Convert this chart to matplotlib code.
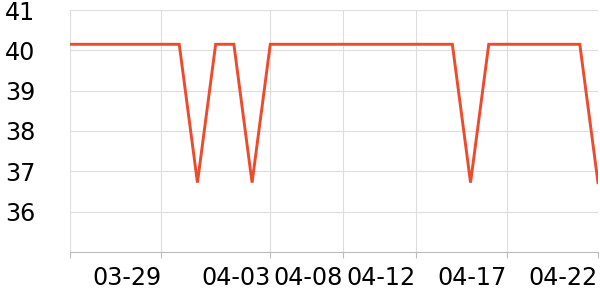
import matplotlib
matplotlib.use("Agg")
import matplotlib.pyplot as plt

# ---------------------------------------------------------------------------
# Data (30 daily points, category axis)
# ---------------------------------------------------------------------------
values = [40.15] * 30
values[7] = 36.72
values[10] = 36.72
values[22] = 36.72
values[29] = 36.72

tick_index = [0, 5, 11, 15, 19, 24, 29]
tick_labels = ["", "03-29", "04-03", "04-08", "04-12", "04-17", "04-22"]
y_ticks = [36, 37, 38, 39, 40, 41]

fig = plt.figure(figsize=(6, 3), dpi=100)
ax = fig.add_axes([70 / 600, 48 / 300, 528 / 600, 242 / 300])

ax.plot(range(len(values)), values, color="#ee4a2c", linewidth=2.1,
        solid_joinstyle="miter", zorder=3)

ax.set_xlim(0, len(values) - 1)
ax.set_ylim(35, 41)

ax.set_xticks(tick_index)
ax.set_xticklabels(tick_labels, ha="right", fontsize=17.2)
ax.set_yticks(y_ticks)
ax.set_yticklabels([str(v) for v in y_ticks], fontsize=17.2)

# Light grid on both axes
ax.grid(True, color="#dddddd", linewidth=0.8, zorder=0)
for side in ("top", "right", "left"):
    ax.spines[side].set_visible(False)
ax.spines["bottom"].set_color("#bbbbbb")
ax.spines["bottom"].set_linewidth(0.8)

ax.tick_params(axis="x", length=4, color="#bbbbbb", width=0.8, pad=6)
ax.tick_params(axis="y", length=0, pad=25)

fig.savefig("out.png", dpi=100)
